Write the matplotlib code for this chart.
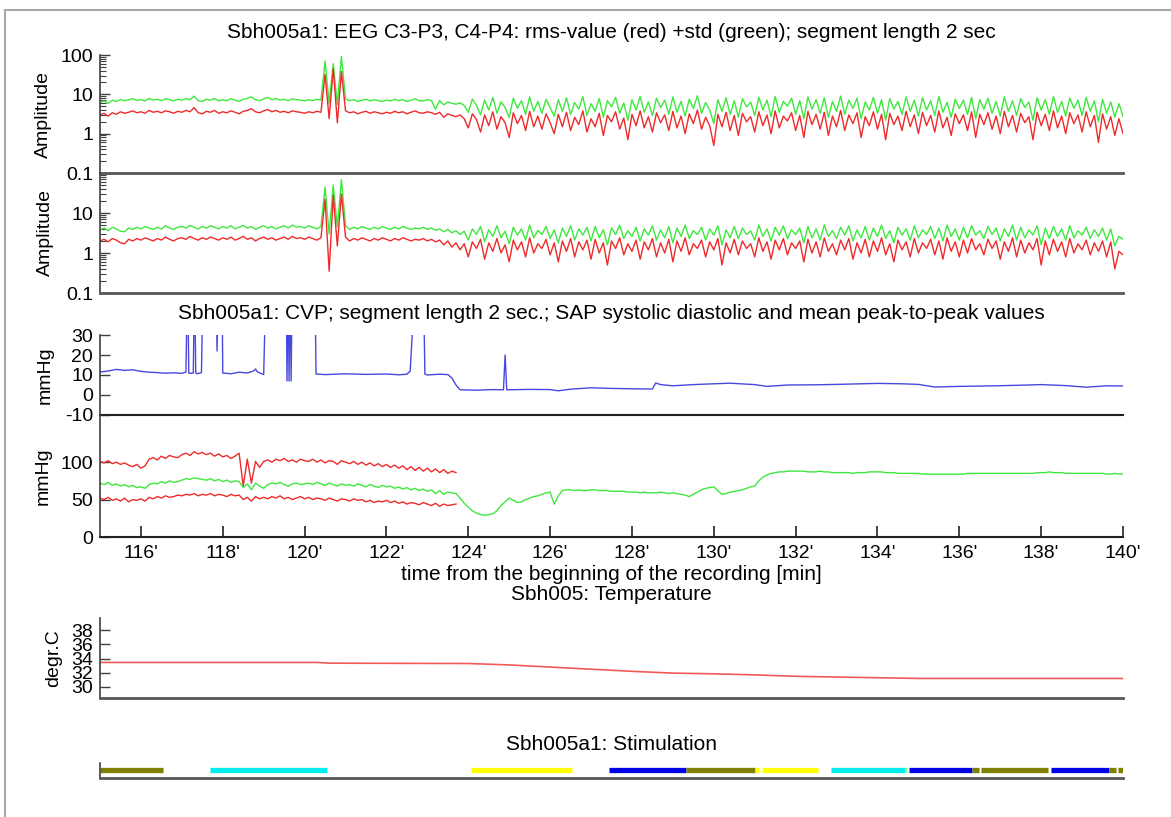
import numpy as np
import matplotlib
matplotlib.use("Agg")
import matplotlib.pyplot as plt
from matplotlib.lines import Line2D
from matplotlib.ticker import FixedLocator, FuncFormatter, LogLocator, NullFormatter

plt.rcParams['font.family'] = ['Liberation Sans', 'DejaVu Sans']
plt.rcParams['font.size'] = 14
plt.rcParams['axes.unicode_minus'] = False

# EEG rms (red) and rms+std (green), one value every 0.1 min from 115' to 140'
eeg_t = np.linspace(115.0, 140.0, 251)

rms1 = [3.0, 3.3, 2.8, 3.4, 3.1, 3.6, 3.3, 3.5, 3.8, 3.4,
        3.6, 3.3, 3.9, 3.5, 3.7, 3.4, 3.8, 3.6, 3.3, 3.7,
        3.5, 3.9, 3.6, 4.6, 3.4, 3.2, 3.7, 3.5, 3.9, 3.3,
        3.6, 3.4, 3.8, 3.5, 3.2, 3.7, 3.9, 4.3, 3.6, 3.4,
        3.8, 4.1, 3.6, 3.9, 3.5, 3.7, 3.4, 3.8, 3.6, 3.5,
        3.3, 3.6, 3.4, 3.7, 3.5, 32, 2.4, 45, 1.9, 38,
        3.8, 3.4, 3.6, 3.2, 3.5, 3.7, 3.3, 3.6, 3.4, 3.2,
        3.5, 3.3, 3.7, 3.4, 3.6, 3.2, 3.5, 3.8, 3.4, 3.3,
        3.6, 3.4, 3.1, 3.5, 2.6, 3.2, 2.9, 2.7, 3.0, 2.4,
        1.4, 3.2, 2.3, 1.1, 3.0, 1.6, 3.6, 1.3, 2.7, 1.9,
        0.8, 3.4, 1.8, 2.9, 1.2, 3.7, 1.5, 2.8, 1.3, 3.2,
        1.9, 1.0, 3.1, 1.5, 3.5, 1.2, 2.6, 1.7, 3.8, 1.1,
        2.4, 1.5, 3.3, 0.9, 2.9, 2.0, 3.6, 1.3, 2.5, 0.7,
        3.1, 1.6, 3.8, 1.4, 2.7, 1.1, 3.4, 1.9, 3.0, 1.2,
        3.7, 1.4, 2.8, 1.0, 3.2, 1.8, 4.0, 1.3, 2.6, 1.6,
        0.5, 3.1, 1.5, 3.5, 1.2, 2.9, 0.9, 3.3, 2.0, 2.7,
        1.1, 3.6, 1.6, 3.0, 1.0, 3.8, 1.4, 2.8, 2.1, 3.4,
        1.2, 2.9, 0.8, 3.7, 1.7, 3.1, 1.3, 3.5, 0.9, 2.8,
        1.5, 3.9, 1.2, 3.0, 1.8, 3.4, 0.8, 2.7, 1.6, 3.6,
        1.3, 3.1, 0.7, 3.3, 1.7, 2.8, 1.2, 3.7, 1.5, 3.0,
        1.0, 3.5, 1.6, 2.9, 1.1, 3.8, 1.4, 2.6, 0.9, 3.2,
        1.8, 3.0, 1.2, 3.6, 0.8, 3.1, 1.7, 3.4, 1.3, 2.8,
        1.0, 3.7, 1.5, 2.9, 1.1, 3.3, 1.9, 2.7, 0.7, 3.5,
        1.6, 3.1, 1.2, 3.8, 1.4, 2.8, 1.0, 3.4, 1.8, 3.0,
        1.1, 3.6, 1.5, 2.9, 0.6, 3.2, 1.3, 2.7, 0.9, 2.4,
        1.0]

std1 = [6.2, 6.8, 5.9, 7.1, 6.5, 7.4, 6.9, 7.2, 7.8, 7.0,
        7.3, 6.8, 7.9, 7.1, 7.5, 6.9, 7.7, 7.3, 6.8, 7.5,
        7.1, 7.8, 7.3, 9.0, 6.9, 6.6, 7.5, 7.1, 7.9, 6.8,
        7.3, 6.9, 7.7, 7.1, 6.6, 7.5, 7.9, 8.6, 7.3, 6.9,
        7.7, 8.3, 7.3, 7.9, 7.1, 7.5, 6.9, 7.7, 7.3, 7.1,
        6.8, 7.3, 6.9, 7.5, 7.1, 70, 6.0, 60, 5.5, 92,
        7.6, 6.9, 7.3, 6.6, 7.1, 7.5, 6.8, 7.3, 6.9, 6.6,
        7.1, 6.8, 7.5, 6.9, 7.3, 6.6, 7.1, 7.7, 6.9, 6.8,
        7.3, 6.9, 4.2, 7.0, 5.4, 6.4, 5.9, 5.6, 6.1, 5.2,
        3.5, 7.6, 5.2, 3.0, 7.2, 4.0, 8.4, 3.3, 6.5, 4.6,
        2.6, 8.0, 4.4, 6.9, 3.1, 8.6, 3.7, 6.6, 3.3, 7.5,
        4.6, 2.8, 7.3, 3.7, 8.2, 3.1, 6.2, 4.2, 8.8, 2.9,
        5.8, 3.7, 7.8, 2.6, 6.9, 4.8, 8.4, 3.3, 6.0, 2.2,
        7.3, 4.0, 8.8, 3.5, 6.4, 2.9, 8.0, 4.6, 7.1, 3.1,
        8.6, 3.5, 6.6, 2.8, 7.5, 4.4, 9.2, 3.3, 6.2, 4.0,
        1.8, 7.3, 3.7, 8.2, 3.1, 6.9, 2.6, 7.8, 4.8, 6.4,
        2.9, 8.4, 4.0, 7.1, 2.7, 8.8, 3.5, 6.6, 5.0, 8.0,
        3.1, 6.9, 2.4, 8.6, 4.2, 7.3, 3.3, 8.2, 2.6, 6.6,
        3.7, 9.0, 3.1, 7.1, 4.4, 8.0, 2.4, 6.4, 4.0, 8.4,
        3.3, 7.3, 2.2, 7.8, 4.2, 6.6, 3.1, 8.6, 3.7, 7.1,
        2.8, 8.2, 4.0, 6.9, 2.9, 8.8, 3.5, 6.2, 2.6, 7.5,
        4.4, 7.1, 3.1, 8.4, 2.4, 7.3, 4.2, 8.0, 3.3, 6.6,
        2.8, 8.6, 3.7, 6.9, 2.9, 7.8, 4.6, 6.4, 2.2, 8.2,
        4.0, 7.3, 3.1, 8.8, 3.5, 6.6, 2.8, 8.0, 4.4, 7.1,
        2.9, 8.4, 3.7, 6.9, 2.0, 7.5, 3.3, 6.4, 2.6, 5.8,
        2.8]

rms2 = [2.0, 2.2, 1.9, 2.3, 2.1, 1.8, 1.7, 2.2, 2.0, 2.3,
        2.1, 2.4, 2.2, 2.0, 2.3, 2.1, 2.5, 2.2, 2.0, 2.3,
        2.4, 2.2, 2.6, 2.3, 2.1, 2.4, 2.2, 2.5, 2.3, 2.1,
        2.4, 2.2, 2.5, 2.1, 2.3, 2.6, 2.2, 2.4, 2.0, 2.3,
        2.5, 2.2, 2.4, 2.1, 2.3, 2.5, 2.2, 2.6, 2.3, 2.4,
        2.2, 2.5, 2.3, 2.1, 2.4, 22, 0.35, 28, 1.5, 30,
        2.5, 2.0, 2.3, 2.1, 2.4, 2.2, 2.0, 2.3, 2.1, 2.4,
        2.2, 2.0, 2.3, 2.1, 2.4, 2.2, 2.0, 2.2, 2.1, 2.3,
        2.0, 2.2, 1.9, 2.1, 1.6, 2.0, 1.4, 1.8, 1.2, 1.7,
        0.8, 1.9, 1.3, 2.2, 0.7, 1.8, 1.1, 2.3, 1.0, 1.6,
        0.6, 2.1, 1.2, 1.9, 0.8, 2.4, 1.0, 1.7, 1.3, 2.2,
        0.9, 1.8, 0.6, 2.0, 1.1, 2.3, 0.8, 1.9, 1.2, 2.1,
        0.7, 2.2, 1.0, 1.8, 0.5, 2.0, 1.3, 2.4, 0.9, 1.7,
        1.1, 2.1, 0.7, 1.9, 1.2, 2.3, 0.8, 1.8, 1.0, 2.2,
        0.6, 2.0, 1.1, 2.4, 0.9, 1.7, 1.3, 2.1, 0.8, 1.9,
        1.2, 2.3, 0.5, 1.8, 1.0, 2.2, 0.9, 2.0, 1.3, 1.7,
        0.8, 2.4, 1.1, 1.9, 0.7, 2.1, 1.2, 2.3, 0.9, 1.8,
        1.3, 2.0, 0.6, 2.2, 1.0, 1.9, 0.8, 2.4, 1.1, 1.7,
        0.9, 2.1, 1.2, 2.3, 0.7, 1.8, 1.0, 2.2, 0.8, 2.0,
        1.1, 2.4, 0.9, 1.7, 0.6, 2.1, 1.2, 1.9, 0.8, 2.3,
        1.0, 1.8, 1.3, 2.2, 0.9, 2.0, 0.7, 2.4, 1.1, 1.9,
        0.8, 2.1, 1.0, 2.3, 1.2, 1.7, 0.9, 2.2, 1.3, 2.0,
        0.7, 1.9, 1.1, 2.4, 0.8, 2.1, 1.0, 1.8, 1.2, 2.3,
        0.5, 2.0, 0.9, 2.2, 1.1, 1.9, 0.8, 2.3, 1.0, 1.7,
        1.2, 2.1, 0.9, 1.8, 1.1, 2.0, 0.8, 1.9, 0.4, 1.1,
        0.9]

std2 = [3.8, 4.2, 3.6, 4.4, 4.0, 3.5, 3.4, 4.2, 3.9, 4.4,
        4.0, 4.6, 4.2, 3.9, 4.4, 4.0, 4.8, 4.2, 3.9, 4.4,
        4.6, 4.2, 4.9, 4.4, 4.0, 4.6, 4.2, 4.8, 4.4, 4.0,
        4.6, 4.2, 4.8, 4.0, 4.4, 4.9, 4.2, 4.6, 3.9, 4.4,
        4.8, 4.2, 4.6, 4.0, 4.4, 4.8, 4.2, 5.0, 4.4, 4.6,
        4.2, 4.8, 4.4, 4.0, 4.6, 45, 3.0, 50, 4.5, 68,
        4.8, 3.9, 4.4, 4.0, 4.6, 4.2, 3.9, 4.4, 4.0, 4.6,
        4.2, 3.9, 4.4, 4.0, 4.6, 4.2, 3.9, 4.2, 4.0, 4.4,
        3.9, 4.2, 3.7, 4.0, 3.4, 3.9, 3.2, 3.6, 2.9, 3.5,
        2.1, 4.0, 2.9, 4.6, 1.9, 3.8, 2.6, 4.8, 2.4, 3.5,
        1.7, 4.4, 2.8, 4.0, 2.1, 5.0, 2.4, 3.7, 2.9, 4.6,
        2.3, 3.8, 1.8, 4.2, 2.6, 4.8, 2.1, 4.0, 2.8, 4.4,
        2.0, 4.6, 2.4, 3.8, 1.6, 4.2, 2.9, 5.0, 2.3, 3.6,
        2.6, 4.4, 2.0, 4.0, 2.8, 4.8, 2.1, 3.8, 2.4, 4.6,
        1.8, 4.2, 2.6, 5.0, 2.3, 3.6, 2.9, 4.4, 2.1, 4.0,
        2.8, 4.8, 1.6, 3.8, 2.4, 4.6, 2.3, 4.2, 2.9, 3.6,
        2.1, 5.0, 2.6, 4.0, 2.0, 4.4, 2.8, 4.8, 2.3, 3.8,
        2.9, 4.2, 1.8, 4.6, 2.4, 4.0, 2.1, 5.0, 2.6, 3.6,
        2.3, 4.4, 2.8, 4.8, 2.0, 3.8, 2.4, 4.6, 2.1, 4.2,
        2.6, 5.0, 2.3, 3.6, 1.8, 4.4, 2.8, 4.0, 2.1, 4.8,
        2.4, 3.8, 2.9, 4.6, 2.3, 4.2, 2.0, 5.0, 2.6, 4.0,
        2.1, 4.4, 2.4, 4.8, 2.8, 3.6, 2.3, 4.6, 2.9, 4.2,
        2.0, 4.0, 2.6, 5.0, 2.1, 4.4, 2.4, 3.8, 2.8, 4.8,
        1.6, 4.2, 2.3, 4.6, 2.6, 4.0, 2.1, 4.8, 2.4, 3.6,
        2.8, 4.4, 2.3, 3.8, 2.6, 4.2, 2.1, 4.0, 1.5, 2.6,
        2.2]

# CVP [mmHg]; values above 30 run off the top of the panel
cvp_t = [115.0, 115.2, 115.4, 115.6, 115.8, 116.0, 116.2, 116.4, 116.6, 116.8,
         117.0, 117.1, 117.14, 117.17, 117.22, 117.28, 117.31, 117.34, 117.38, 117.44,
         117.48, 117.52, 117.84, 117.86, 117.9, 117.98, 118.0, 118.2, 118.4, 118.6,
         118.75, 118.8, 118.85, 119.0, 119.06, 119.1, 119.55, 119.57, 119.6, 119.62,
         119.65, 119.67, 119.7, 120.25, 120.28, 120.5, 121.0, 121.5, 122.0, 122.3,
         122.5, 122.58, 122.63, 122.64, 122.9, 122.94, 123.0, 123.3, 123.5, 123.6,
         123.7, 123.8, 124.2, 124.6, 124.86, 124.9, 124.94, 125.5, 126.0, 126.2,
         126.5, 127.0, 127.5, 128.0, 128.5, 128.58, 128.7, 129.0, 129.5, 130.0,
         130.4, 131.0, 131.3, 131.8, 132.5, 133.0, 134.0, 134.6, 135.0, 135.4,
         136.0, 136.9, 137.5, 138.0, 138.6, 139.1, 139.6, 140.0]
cvp_v = [11.5, 12.0, 12.8, 12.3, 12.6, 11.8, 11.4, 11.2, 10.9, 11.1,
         10.8, 11.5, 60, 11.0, 10.8, 11.0, 60, 11.0, 10.6, 11.0,
         11.2, 60, 60, 22, 60, 60, 11.0, 10.6, 11.4, 11.0,
         12.0, 13.0, 11.5, 10.2, 60, 60, 60, 7.0, 60, 7.0,
         60, 7.0, 60, 60, 10.5, 10.2, 10.6, 10.3, 10.5, 10.1,
         10.4, 12.0, 30, 60, 60, 10.5, 10.0, 10.4, 10.2, 8.5,
         5.0, 2.6, 2.4, 2.7, 2.6, 20, 2.6, 2.8, 2.7, 2.1,
         2.9, 3.6, 3.3, 3.1, 3.0, 6.0, 5.2, 4.6, 5.2, 5.6,
         5.9, 5.2, 4.3, 5.0, 5.1, 5.3, 5.8, 5.6, 5.3, 4.0,
         4.3, 4.6, 4.9, 5.2, 4.7, 3.9, 4.6, 4.5]

# SAP systolic / diastolic (115'..123.7'), mean (whole record), 0.1 min steps
sap_t = np.linspace(115.0, 123.7, 88)
sap_sys = [101, 99, 102, 98, 100, 97, 99, 96, 94, 97,
           92, 95, 104, 106, 103, 108, 105, 109, 107, 106,
           110, 112, 109, 114, 111, 113, 110, 112, 108, 111,
           107, 109, 105, 108, 112, 68, 104, 72, 101, 93,
           101, 103, 100, 104, 102, 105, 101, 103, 100, 104,
           102, 101, 104, 100, 103, 99, 102, 101, 97, 102,
           100, 98, 101, 97, 100, 96, 99, 95, 98, 94,
           97, 93, 96, 92, 95, 90, 94, 89, 93, 88,
           92, 87, 91, 86, 90, 85, 88, 86]
sap_dia = [52, 50, 53, 49, 51, 48, 52, 47, 50, 49,
           51, 48, 53, 51, 54, 52, 55, 53, 54, 56,
           55, 57, 56, 58, 55, 57, 56, 58, 55, 57,
           56, 54, 57, 55, 56, 50, 53, 48, 54, 51,
           53, 51, 54, 52, 55, 51, 53, 50, 52, 54,
           51, 53, 50, 52, 51, 49, 52, 50, 48, 51,
           50, 48, 51, 49, 50, 47, 49, 46, 48, 47,
           49, 46, 48, 45, 47, 44, 46, 45, 43, 46,
           44, 42, 45, 41, 44, 42, 43, 44]
sap_mean = [72, 70, 73, 69, 71, 68, 70, 67, 69, 66,
            67, 65, 70, 72, 71, 74, 72, 75, 73, 74,
            76, 78, 77, 79, 78, 77, 76, 78, 75, 77,
            74, 76, 73, 75, 74, 66, 71, 63, 72, 68,
            65, 70, 72, 71, 73, 70, 68, 71, 72, 70,
            71, 72, 70, 73, 71, 69, 72, 70, 68, 71,
            69, 70, 68, 71, 69, 67, 70, 68, 66, 69,
            67, 68, 65, 67, 64, 66, 63, 65, 62, 64,
            61, 63, 58, 62, 57, 60, 59, 58, 52, 45,
            40, 35, 32, 30, 29, 30, 31, 35, 42, 47,
            52, 49, 46, 47, 50, 52, 54, 55, 57, 59,
            60, 44, 55, 62, 63, 63, 62, 63, 62, 62,
            63, 63, 62, 62, 62, 61, 61, 61, 61, 60,
            60, 60, 59, 60, 59, 59, 59, 60, 59, 58,
            59, 58, 57, 56, 54, 57, 60, 63, 65, 66,
            67, 62, 57, 58, 60, 61, 62, 63, 65, 67,
            68, 75, 80, 83, 85, 86, 87, 87, 88, 88,
            88, 88, 88, 87, 87, 87, 88, 87, 87, 86,
            86, 86, 86, 86, 85, 86, 86, 86, 87, 87,
            87, 87, 86, 86, 86, 85, 85, 85, 85, 85,
            85, 84, 84, 84, 84, 84, 84, 84, 84, 84,
            84, 84, 85, 85, 85, 85, 85, 85, 85, 85,
            85, 85, 85, 85, 85, 85, 85, 85, 85, 86,
            86, 86, 87, 86, 86, 86, 85, 85, 85, 85,
            85, 85, 85, 85, 85, 85, 84, 84, 85, 84,
            84]

# temperature [deg C]
temp_t = [115.0, 120.3, 120.6, 124.0, 125.0, 126.0, 127.0, 128.0, 129.0, 130.0,
          131.0, 132.0, 133.0, 134.0, 135.0, 137.0, 140.0]
temp_v = [33.45, 33.45, 33.35, 33.3, 33.1, 32.8, 32.5, 32.2, 31.95, 31.85,
          31.7, 31.5, 31.4, 31.3, 31.2, 31.2, 31.2]

# stimulation blocks: start, end, colour
stim_start = [115.0, 117.69, 124.07, 127.45, 129.31, 131.0, 131.19, 132.87, 134.67,
              134.77, 136.31, 136.53, 138.24, 139.66, 139.87]
stim_end = [116.54, 120.55, 126.54, 129.31, 131.0, 131.1, 132.55, 134.67, 134.72,
            136.31, 136.48, 138.17, 139.66, 139.83, 140.0]
stim_color = ['#7f7f00', '#00eeee', '#ffff00', '#0000e6', '#7f7f00', '#ffff00',
              '#ffff00', '#00eeee', '#80ff80', '#0000e6', '#7f7f00', '#7f7f00',
              '#0000e6', '#7f7f00', '#7f7f00']

RED = '#ee2a2a'
GREEN = '#3ee83e'
BLUE = '#4848e0'
AXIS = '#404040'
TITLE_SIZE = 15
W, H = 1171, 817


def add_axes_px(top, bottom, left=100, right=1123):
    return fig.add_axes([left / W, 1 - bottom / H, (right - left) / W, (bottom - top) / H])


def style_axes(ax, label=None, label_right=None):
    for s in ['top', 'right']:
        ax.spines[s].set_visible(False)
    ax.spines['left'].set_color(AXIS)
    ax.spines['left'].set_linewidth(1.2)
    ax.spines['bottom'].set_color('#555555')
    ax.spines['bottom'].set_linewidth(2.0)
    ax.set_xlim(115, 140)
    ax.tick_params(axis='y', which='major', direction='in', length=7, width=1, pad=5, colors=AXIS,
                   labelcolor='black')
    ax.tick_params(axis='y', which='minor', direction='in', length=4, width=0.8, colors=AXIS)
    ax.tick_params(axis='x', which='both', bottom=False, labelbottom=False)
    if label:
        # label coords give the right-hand edge of the rotated label
        ax.set_ylabel(label)
        ax.yaxis.set_label_coords((label_right - 100) / 1023, 0.5)
    ax.patch.set_alpha(0)


fig = plt.figure(figsize=(W / 100, H / 100), dpi=100)

# outer frame
fig.add_artist(Line2D([5 / W, 1.0], [1 - 10 / H, 1 - 10 / H], color='#a8a8a8', lw=1.5))
fig.add_artist(Line2D([5 / W, 5 / W], [0, 1 - 10 / H], color='#a8a8a8', lw=1.5))

# EEG panels
for top, bottom, rms, std, lab_x in [(55, 173, rms1, std1, 52), (173, 293, rms2, std2, 54)]:
    ax = add_axes_px(top, bottom)
    ax.plot(eeg_t, std, color=GREEN, lw=1)
    ax.plot(eeg_t, rms, color=RED, lw=1)
    ax.set_yscale('log')
    ax.set_ylim(0.1, 100)
    ax.yaxis.set_major_locator(FixedLocator([0.1, 1, 10, 100] if top == 55 else [0.1, 1, 10]))
    ax.yaxis.set_major_formatter(FuncFormatter(lambda v, p: f"{v:g}"))
    ax.yaxis.set_minor_locator(LogLocator(base=10, subs=np.arange(2, 10), numticks=20))
    ax.yaxis.set_minor_formatter(NullFormatter())
    style_axes(ax, 'Amplitude', lab_x)

fig.text(611 / W, 1 - 33 / H, 'Sbh005a1: EEG C3-P3, C4-P4: rms-value (red) +std (green); segment length 2 sec',
         ha='center', va='center', fontsize=TITLE_SIZE)

# CVP
ax = add_axes_px(335, 415)
ax.plot(cvp_t, cvp_v, color=BLUE, lw=1)
ax.set_ylim(-10, 30)
ax.set_yticks([-10, 0, 10, 20, 30])
style_axes(ax, 'mmHg', 54)
ax.spines['bottom'].set_color('#222222')
ax.spines['bottom'].set_linewidth(1.5)
fig.text(611 / W, 1 - 314 / H,
         'Sbh005a1: CVP; segment length 2 sec.; SAP systolic diastolic and mean peak-to-peak values',
         ha='center', va='center', fontsize=TITLE_SIZE)

# SAP
ax = add_axes_px(415, 537)
ax.plot(sap_t, sap_sys, color=RED, lw=1)
ax.plot(sap_t, sap_dia, color=RED, lw=1)
ax.plot(eeg_t, sap_mean, color=GREEN, lw=1)
ax.set_ylim(0, 163)
ax.set_yticks([0, 50, 100])
style_axes(ax, 'mmHg', 52)
ax.spines['bottom'].set_color('#222222')
ax.spines['bottom'].set_linewidth(1.5)
ax.set_xticks(np.arange(116, 141, 2))
ax.xaxis.set_major_formatter(FuncFormatter(lambda v, p: f"{int(v)}'"))
ax.tick_params(axis='x', which='major', bottom=True, labelbottom=True, direction='in',
               length=8, width=1.2, pad=6, colors='#222222', labelcolor='black')
fig.text(611 / W, 1 - 574 / H, 'time from the beginning of the recording [min]', ha='center', va='center',
         fontsize=TITLE_SIZE)

# temperature
ax = add_axes_px(618, 698)
ax.plot(temp_t, temp_v, color='#f05a5a', lw=1.2)
ax.set_ylim(28.45, 39.7)
ax.set_yticks([30, 32, 34, 36, 38])
style_axes(ax, 'degr.C', 62)
fig.text(611 / W, 1 - 594 / H, 'Sbh005: Temperature', ha='center', va='center', fontsize=TITLE_SIZE)

# stimulation
ax = add_axes_px(763, 778)
ax.hlines([0.53] * len(stim_start), stim_start, stim_end, colors=stim_color, lw=3.8, capstyle='butt')
ax.set_ylim(0, 1)
ax.set_yticks([])
style_axes(ax)
fig.text(611 / W, 1 - 744 / H, 'Sbh005a1: Stimulation', ha='center', va='center', fontsize=TITLE_SIZE)

fig.savefig('out.png', dpi=100, facecolor='white')
